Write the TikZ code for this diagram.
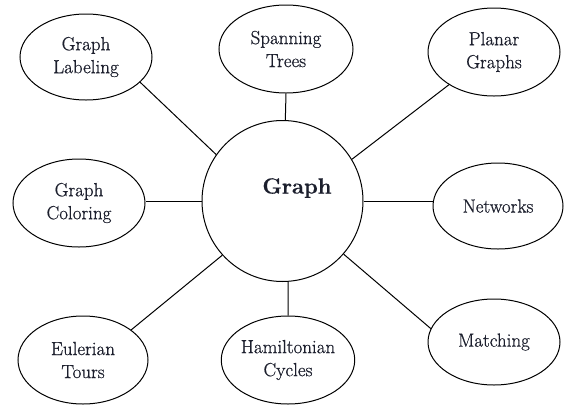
\documentclass[tikz,border=0pt]{standalone}
\usepackage{fontspec}
\newfontfamily\lmdark{Latin Modern Roman}[FakeBold=0.7]
\newfontfamily\lmhead{Latin Modern Roman}[BoldFeatures={FakeBold=0.6}]
\usetikzlibrary{shapes.geometric}
\definecolor{txt}{RGB}{28,31,45}
\begin{document}
\begin{tikzpicture}[x=1pt,y=-1pt,
  topic/.style={draw=black, line width=1pt, ellipse, inner sep=0pt, align=center,
    text=txt, font=\lmdark\fontsize{19}{23}\selectfont},
  hub/.style={draw=black, line width=1pt, circle, inner sep=0pt, minimum size=161pt},
  link/.style={draw=black, line width=1pt}]
\useasboundingbox (0,0) rectangle (566,408);
\node[hub] (g) at (282.5,201) {};
\node[text=txt, font=\lmhead\bfseries\fontsize{22}{27}\selectfont] (gt) at (297,188) {Graph};
\node[topic, minimum width=132pt, minimum height=86pt] (lab) at (86,57) {Graph\\Labeling};
\node[topic, minimum width=134pt, minimum height=88pt] (st) at (286,49) {Spanning\\Trees};
\node[topic, minimum width=132pt, minimum height=88pt] (pl) at (494,52) {Planar\\Graphs};
\node[topic, minimum width=132pt, minimum height=88pt] (col) at (79,203) {Graph\\Coloring};
\node[topic, minimum width=130pt, minimum height=86pt] (net) at (498,206) {Networks};
\node[topic, minimum width=130pt, minimum height=88pt] (eul) at (83,360) {Eulerian\\Tours};
\node[topic, minimum width=130pt, minimum height=88pt] (ham) at (288,360) {Hamiltonian\\Cycles};
\node[topic, minimum width=132pt, minimum height=86pt] (mat) at (494,342) {Matching};
\draw[link] (g.145) -- (lab.-25);
\draw[link] (g.88) -- (st.south);
\draw[link] (g.31) -- (pl.-144);
\draw[link] (g.west) -- (g.west -| col.east);
\draw[link] (g.east) -- (g.east -| net.west);
\draw[link] (g.-138.5) -- (eul.32);
\draw[link] (g.-86) -- (ham.north);
\draw[link] (g.-41.4) -- (mat.168);
\end{tikzpicture}
\end{document}
